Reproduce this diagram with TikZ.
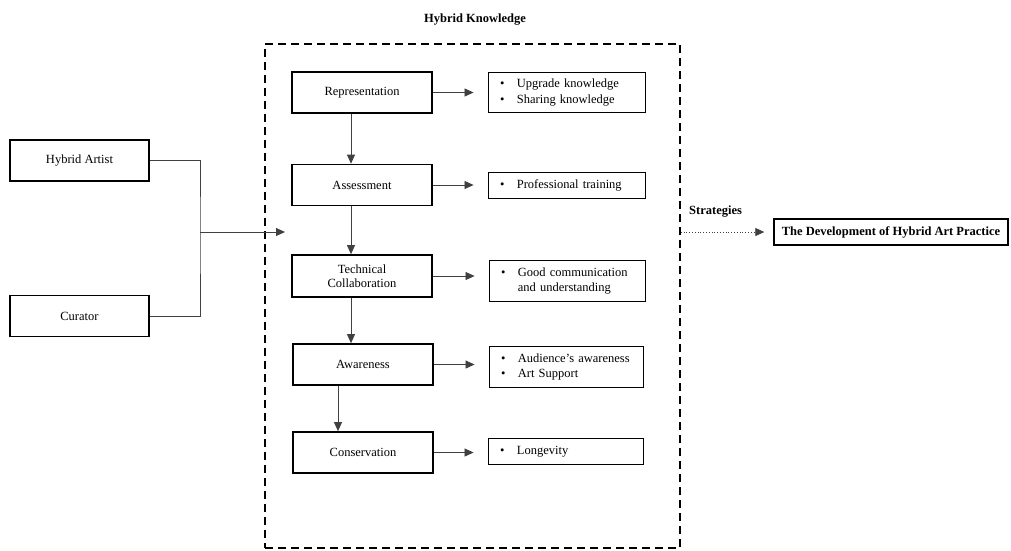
\documentclass[tikz,border=0pt]{standalone}
\usepackage{fontspec}
\setmainfont{Liberation Serif}
\usetikzlibrary{arrows.meta}
\begin{document}
\begin{tikzpicture}[x=1pt,y=-1pt,
  every node/.style={font=\fontsize{12.5}{15}\selectfont},
  mainbox/.style={draw, line width=1.7pt, minimum width=140pt, minimum height=41pt, inner sep=0pt, align=center},
  listbox/.style={draw, line width=0.9pt, inner xsep=12pt, inner ysep=0pt, align=left},
  conn/.style={draw=black!75, line width=0.8pt},
  arr/.style={conn, -{Triangle[length=9pt,width=8pt]}},
  sidebox/.style={draw, line width=1.7pt, minimum width=139pt, minimum height=41pt, inner sep=0pt}]
\useasboundingbox (0,0) rectangle (1011,550);

% title and dashed frame
\node[font=\fontsize{12.5}{15}\selectfont\bfseries] (title) at (475,20) {Hybrid Knowledge};
\node[draw, dashed, dash pattern=on 8pt off 5pt, line width=1.4pt, minimum width=415pt, minimum height=504pt, inner sep=0pt] (hk) at (472.5,296) {};

% left boxes
\node[sidebox] (ha) at (79.5,160.5) {Hybrid Artist};
\node[sidebox] (cur) at (79.5,316) {Curator};
\coordinate (jn) at (200,232);
\coordinate (hkin) at (285,232);
\draw[conn] (ha.east) -| (jn) |- (cur.east);
\draw[arr] (jn) -- (hkin);

% main boxes
\node[mainbox] (rep) at (362,92.5) {Representation};
\node[mainbox] (ass) at (362,185) {Assessment};
\node[mainbox, minimum height=42pt, font=\fontsize{12.5}{14}\selectfont] (tc) at (362,276) {Technical\\Collaboration};
\node[mainbox] (awa) at (363,364.5) {Awareness};
\node[mainbox] (con) at (363,452.5) {Conservation};

% list boxes
\node[listbox, text width=133pt, minimum height=40pt] (b1) at (566.5,92) {\begin{tabular}{@{}l@{\hspace{12.5pt}}l@{}}\textbullet & Upgrade knowledge\\[1pt] \textbullet & Sharing knowledge\end{tabular}};
\node[listbox, text width=133pt, minimum height=26pt] (b2) at (566.5,185) {\begin{tabular}{@{}l@{\hspace{12.5pt}}l@{}}\textbullet & Professional training\end{tabular}};
\node[listbox, text width=132pt, minimum height=41pt] (b3) at (567,280.5) {\begin{tabular}{@{}l@{\hspace{12.5pt}}l@{}}\textbullet & Good communication\\ & and understanding\end{tabular}};
\node[listbox, text width=130pt, minimum height=41pt] (b4) at (566,366.5) {\begin{tabular}{@{}l@{\hspace{12.5pt}}l@{}}\textbullet & Audience’s awareness\\ \textbullet & Art Support\end{tabular}};
\node[listbox, text width=131pt, minimum height=26pt] (b5) at (565.5,451) {\begin{tabular}{@{}l@{\hspace{12.5pt}}l@{}}\textbullet & Longevity\end{tabular}};

% horizontal arrows
\foreach \m/\b in {rep/b1, ass/b2, tc/b3, awa/b4, con/b5}
  \draw[arr, shorten >=14pt] (\m.east) -- (\m.east -| \b.west);

% vertical arrows
\draw[arr] ([xshift=-11pt]rep.south) -- ([xshift=-11pt]rep.south |- ass.north);
\draw[arr] ([xshift=-11pt]ass.south) -- ([xshift=-11pt]ass.south |- tc.north);
\draw[arr] ([xshift=-11pt]tc.south) -- ([xshift=-11pt]tc.south |- awa.north);
\draw[arr] ([xshift=-25pt]awa.south) -- ([xshift=-25pt]awa.south |- con.north);

% strategies
\node[draw, line width=1.4pt, minimum width=234pt, minimum height=26pt, inner sep=0pt, font=\fontsize{12.5}{15}\selectfont\bfseries] (dev) at (891,232) {The Development of Hybrid Art Practice};
\node[anchor=west, inner sep=0pt, font=\fontsize{12.5}{15}\selectfont\bfseries] (strat) at (689,212) {Strategies};
\draw[arr, dotted, shorten >=9pt] (hk.east |- dev) -- (dev.west);
\end{tikzpicture}
\end{document}
